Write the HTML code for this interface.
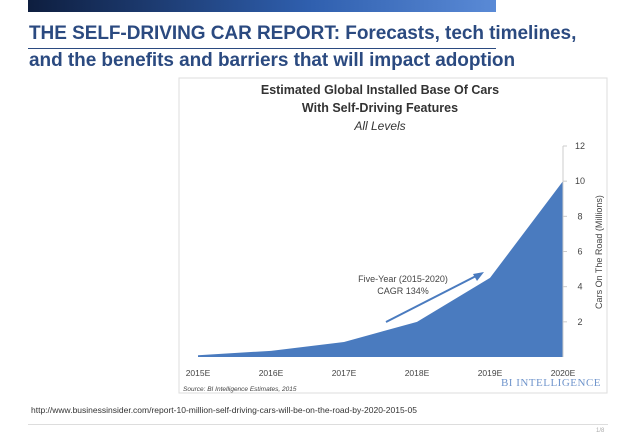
<!DOCTYPE html>
<html><head><meta charset="utf-8"><style>
body{margin:0;width:638px;height:442px;background:#fff;overflow:hidden;position:relative;font-family:"Liberation Sans",sans-serif}
.abs{position:absolute}
</style></head><body>
<div class="abs" style="left:28px;top:0;width:468px;height:12px;background:linear-gradient(90deg,#0e1e3f,#2f5fae 60%,#5a8ad6)"></div>
<div class="abs" style="left:29px;top:23px;font-weight:bold;font-size:19px;color:#2b4a80;letter-spacing:-0.05px;white-space:nowrap">THE SELF-DRIVING CAR REPORT: Forecasts, tech timelines,</div>
<div class="abs" style="left:28px;top:48px;width:468px;height:1px;background:#2b4a80"></div>
<div class="abs" style="left:29px;top:50px;font-weight:bold;font-size:19px;color:#2b4a80;letter-spacing:-0.05px;white-space:nowrap">and the benefits and barriers that will impact adoption</div>
<svg class="abs" style="left:0;top:0" width="638" height="442">
<rect x="179" y="78" width="428" height="315" fill="#fff" stroke="#ddd"/>
<g font-family="Liberation Sans,sans-serif" text-anchor="middle" fill="#333">
<text x="380" y="94" font-size="12.5" font-weight="bold">Estimated Global Installed Base Of Cars</text>
<text x="380" y="112" font-size="12.5" font-weight="bold">With Self-Driving Features</text>
<text x="380" y="130" font-size="12" font-style="italic">All Levels</text>
</g>
<g id="plot"></g>
<text x="403" y="282" font-size="9" text-anchor="middle" fill="#444">Five-Year (2015-2020)</text>
<text x="403" y="294" font-size="9" text-anchor="middle" fill="#444">CAGR 134%</text>
<line x1="386" y1="322" x2="478" y2="275" stroke="#4a7bbf" stroke-width="2"/>
<polygon points="484,272 473,274 477,281" fill="#4a7bbf"/>
<text x="602" y="252" font-size="9" fill="#444" text-anchor="middle" transform="rotate(-90 602 252)">Cars On The Road (Millions)</text>
<text x="183" y="391" font-size="6.5" font-style="italic" fill="#444">Source: BI Intelligence Estimates, 2015</text>
<text x="601" y="386" font-size="11" fill="#7095cc" text-anchor="end" font-family="Liberation Serif,serif" letter-spacing="0.5">BI INTELLIGENCE</text>
</svg>
<div class="abs" style="left:31px;top:405px;font-size:8.5px;color:#333;white-space:nowrap">http://www.businessinsider.com/report-10-million-self-driving-cars-will-be-on-the-road-by-2020-2015-05</div>
<div class="abs" style="left:28px;top:424px;width:580px;height:1px;background:#ddd"></div>
<div class="abs" style="left:596px;top:428px;font-size:6px;color:#aaa">1/8</div>
<script>
const categories=["2015E","2016E","2017E","2018E","2019E","2020E"];
const values=[0.1,0.35,0.85,2.0,4.5,10];
const yTicks=[2,4,6,8,10,12];
const NS="http://www.w3.org/2000/svg";
const g=document.getElementById('plot');
const x0=198,x1=563,y0=357,yTop=146,yMax=12;
const X=i=>x0+(x1-x0)*i/(categories.length-1);
const Y=v=>y0-(y0-yTop)*v/yMax;
function mk(t,a){const e=document.createElementNS(NS,t);for(const k in a)e.setAttribute(k,a[k]);g.appendChild(e);return e;}
let d=`M${X(0)},${y0}`;values.forEach((v,i)=>d+=` L${X(i)},${Y(v)}`);d+=` L${X(values.length-1)},${y0} Z`;
const area=mk('path',{d:d,fill:'#4a7bbf'});


const ax=mk('line',{x1:x1,y1:y0,x2:x1,y2:yTop,stroke:'#ccc'});


yTicks.forEach(t=>{
 const tk=mk('line',{x1:x1,x2:x1+4,y1:Y(t),y2:Y(t),stroke:'#ccc'});
 
 
 const tx=mk('text',{x:580,y:Y(t)+3,'font-size':9,fill:'#444','text-anchor':'middle'});
 tx.textContent=t;
 
 
});
categories.forEach((c,i)=>{
 const tx=mk('text',{x:X(i),y:376,'font-size':8.5,fill:'#444','text-anchor':'middle'});
 tx.textContent=c;
 
 
});
</script>
</body></html>
